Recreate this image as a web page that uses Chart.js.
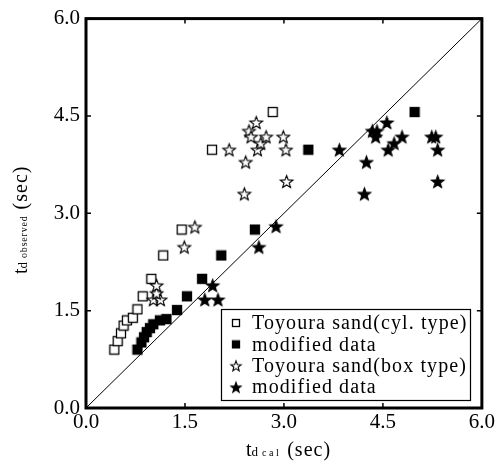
<!DOCTYPE html>
<html>
<head>
<meta charset="utf-8">
<script src="https://cdn.jsdelivr.net/npm/chart.js@4"></script>
<style>
  html, body { margin: 0; padding: 0; background: #fff; }
  #wrap { width: 497px; height: 466px; }
</style>
</head>
<body>
<div id="wrap"><canvas id="chart"></canvas></div>
<script>
// Data (t_d cal, t_d observed), seconds
const tickValues = [0, 1.5, 3, 4.5, 6];

const cylCalc = [0.43, 0.48, 0.53, 0.57, 0.62, 0.71, 0.78, 0.86, 0.99, 1.17, 1.45, 1.91, 2.83];
const cylObs  = [0.90, 1.03, 1.15, 1.27, 1.35, 1.39, 1.52, 1.72, 1.99, 2.35, 2.75, 3.98, 4.56];

const cylModCalc = [0.78, 0.84, 0.88, 0.92, 0.97, 1.02, 1.12, 1.22, 1.38, 1.53, 1.76, 2.05, 2.56, 3.37, 4.98];
const cylModObs  = [0.90, 1.01, 1.09, 1.17, 1.23, 1.29, 1.35, 1.37, 1.51, 1.72, 1.99, 2.35, 2.75, 3.98, 4.56];

const boxCalc = [1.02, 1.13, 1.07, 1.07, 1.49, 1.65, 2.17, 2.40, 2.42, 2.47, 2.50, 2.58, 2.60, 2.65, 2.73, 2.99, 3.03, 3.04];
const boxObs  = [1.67, 1.67, 1.77, 1.89, 2.48, 2.79, 3.98, 3.30, 3.79, 4.27, 4.18, 4.40, 3.98, 4.08, 4.18, 4.18, 3.98, 3.49];

const boxModCalc = [1.80, 2.00, 1.92, 2.62, 2.88, 3.84, 4.22, 4.25, 4.34, 4.39, 4.41, 4.56, 4.58, 4.67, 4.79, 5.24, 5.30, 5.33, 5.33];
const boxModObs  = [1.67, 1.67, 1.89, 2.48, 2.80, 3.98, 3.30, 3.79, 4.27, 4.18, 4.27, 4.40, 3.98, 4.08, 4.18, 4.18, 4.18, 3.98, 3.49];

const legendLabels = ['Toyoura sand(cyl. type)', 'modified data', 'Toyoura sand(box type)', 'modified data'];

const SERIF = "'Liberation Serif', 'DejaVu Serif', serif";

function pairs(xs, ys) {
    return xs.map((x, i) => ({ x: x, y: ys[i] }));
}

// marker images
function makeSquare(filled, side) {
    const c = document.createElement('canvas');
    c.width = side + 2; c.height = side + 2;
    const g = c.getContext('2d');
    g.fillStyle = filled ? '#000' : '#fff';
    g.fillRect(1, 1, side, side);
    g.strokeStyle = '#000';
    g.lineWidth = 1.3;
    g.strokeRect(1.5, 1.5, side - 1, side - 1);
    return c;
}

function makeStar(filled, ro) {
    const size = Math.ceil(ro * 2 + 3);
    const c = document.createElement('canvas');
    c.width = size; c.height = size;
    const g = c.getContext('2d');
    const cx = size / 2, cy = size / 2 + ro * 0.1, ri = ro * 0.42;
    g.beginPath();
    for (let i = 0; i < 10; i++) {
        const r = i % 2 === 0 ? ro : ri;
        const a = -Math.PI / 2 + i * Math.PI / 5;
        const px = cx + r * Math.cos(a), py = cy + r * Math.sin(a);
        if (i === 0) g.moveTo(px, py); else g.lineTo(px, py);
    }
    g.closePath();
    g.fillStyle = filled ? '#000' : '#fff';
    g.fill();
    g.strokeStyle = '#000';
    g.lineWidth = 1.1;
    g.stroke();
    return c;
}

const markers = [makeSquare(false, 10), makeSquare(true, 10), makeStar(false, 6.6), makeStar(true, 6.6)];
const legendMarkers = [makeSquare(false, 8), makeSquare(true, 8), makeStar(false, 5.4), makeStar(true, 5.4)];

// frame with inward ticks
const framePlugin = {
    id: 'frame',
    afterDraw(chart) {
        const ctx = chart.ctx;
        const a = chart.chartArea;
        const xs = chart.scales.x, ys = chart.scales.y;
        ctx.save();
        ctx.strokeStyle = '#000';
        ctx.lineWidth = 1.5;
        ctx.beginPath();
        tickValues.forEach(v => {
            const px = xs.getPixelForValue(v);
            ctx.moveTo(px, a.bottom); ctx.lineTo(px, a.bottom - 5);
            ctx.moveTo(px, a.top); ctx.lineTo(px, a.top + 5);
            const py = ys.getPixelForValue(v);
            ctx.moveTo(a.left, py); ctx.lineTo(a.left + 5, py);
            ctx.moveTo(a.right, py); ctx.lineTo(a.right - 5, py);
        });
        ctx.stroke();
        ctx.lineWidth = 3;
        ctx.strokeRect(a.left, a.top, a.right - a.left, a.bottom - a.top);
        ctx.restore();
    }
};

// legend box inside the plot
const legendPlugin = {
    id: 'boxLegend',
    afterDraw(chart) {
        const ctx = chart.ctx;
        const x0 = 221, y0 = 309, w = 249, h = 91;
        ctx.save();
        ctx.fillStyle = '#fff';
        ctx.fillRect(x0, y0, w, h);
        ctx.strokeStyle = '#000';
        ctx.lineWidth = 1.2;
        ctx.strokeRect(x0 + 0.5, y0 + 0.5, w, h);
        ctx.font = '20px ' + SERIF;
        ctx.letterSpacing = '1.1px';
        ctx.fillStyle = '#000';
        ctx.textBaseline = 'middle';
        legendLabels.forEach((label, i) => {
            const y = y0 + 14 + i * 21.4;
            const m = legendMarkers[i];
            ctx.drawImage(m, 236 - m.width / 2, y - m.height / 2);
            ctx.fillText(label, 252, y + 1);
        });
        ctx.restore();
    }
};

// axis titles with subscripts
function drawParts(ctx, parts) {
    let x = 0;
    parts.forEach(p => {
        ctx.font = p.size + 'px ' + SERIF;
        ctx.letterSpacing = (p.sp || 0) + 'px';
        x += p.gap || 0;
        ctx.fillText(p.text, x, p.dy || 0);
        x += ctx.measureText(p.text).width;
    });
}

const titlePlugin = {
    id: 'axisTitles',
    afterDraw(chart) {
        const ctx = chart.ctx;
        ctx.save();
        ctx.fillStyle = '#000';
        ctx.textBaseline = 'alphabetic';
        ctx.translate(246, 456);
        drawParts(ctx, [
            { text: 't', size: 20 },
            { text: 'd', size: 13, dy: 0 },
            { text: 'cal', size: 10, dy: 0, sp: 2.5, gap: 4 },
            { text: '(sec)', size: 20, sp: 1, gap: 6 }
        ]);
        ctx.restore();

        ctx.save();
        ctx.fillStyle = '#000';
        ctx.textBaseline = 'alphabetic';
        ctx.translate(27, 274);
        ctx.rotate(-Math.PI / 2);
        drawParts(ctx, [
            { text: 't', size: 20 },
            { text: 'd', size: 13, dy: 0 },
            { text: 'observed', size: 10, dy: 0, sp: 0.8, gap: 4 },
            { text: '(sec)', size: 20, sp: 1, gap: 6 }
        ]);
        ctx.restore();
    }
};

const ctx = document.getElementById('chart').getContext('2d');
const chart = new Chart(ctx, {
    type: 'scatter',
    data: {
        datasets: [
            {
                type: 'line',
                data: [{ x: 0, y: 0 }, { x: 6, y: 6 }],
                borderColor: '#000',
                borderWidth: 1,
                pointRadius: 0,
                order: 10
            },
            { data: pairs(cylCalc, cylObs), pointStyle: markers[0], order: 4 },
            { data: pairs(cylModCalc, cylModObs), pointStyle: markers[1], order: 3 },
            { data: pairs(boxCalc, boxObs), pointStyle: markers[2], order: 2 },
            { data: pairs(boxModCalc, boxModObs), pointStyle: markers[3], order: 1 }
        ]
    },
    options: {
        responsive: true,
        maintainAspectRatio: false,
        animation: false,
        events: [],
        layout: { padding: { left: 0, right: 14, top: 14, bottom: 0 } },
        scales: {
            x: {
                type: 'linear',
                min: 0,
                max: 6,
                afterFit: s => { s.height = 58; },
                afterBuildTicks: s => { s.ticks = tickValues.map(v => ({ value: v })); },
                grid: { display: false, drawTicks: false },
                border: { display: false },
                ticks: {
                    padding: 2,
                    color: '#000',
                    font: { family: SERIF, size: 21 },
                    maxRotation: 0,
                    callback: v => v.toFixed(1)
                }
            },
            y: {
                type: 'linear',
                min: 0,
                max: 6,
                afterFit: s => { s.width = 86; },
                afterBuildTicks: s => { s.ticks = tickValues.map(v => ({ value: v })); },
                grid: { display: false, drawTicks: false },
                border: { display: false },
                ticks: {
                    padding: 6,
                    color: '#000',
                    font: { family: SERIF, size: 21 },
                    callback: v => v.toFixed(1)
                }
            }
        },
        plugins: {
            legend: { display: false },
            tooltip: { enabled: false }
        }
    },
    plugins: [framePlugin, legendPlugin, titlePlugin]
});
</script>
</body>
</html>
